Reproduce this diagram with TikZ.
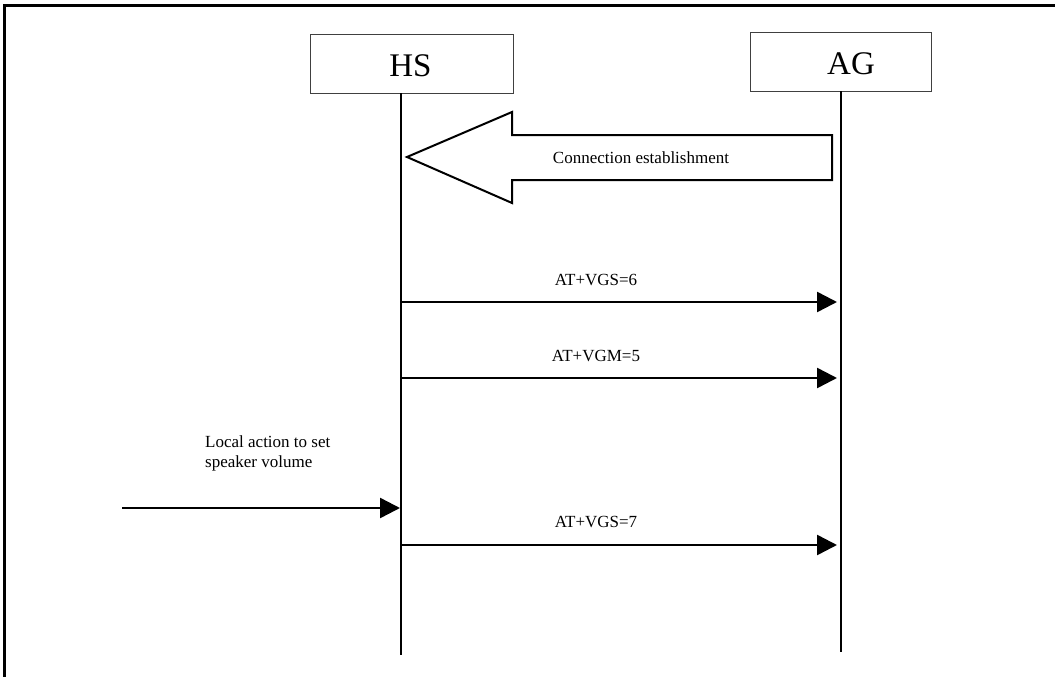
\documentclass[tikz,border=0pt]{standalone}
\usepackage{fontspec}
\setmainfont{Liberation Serif}
\usetikzlibrary{arrows.meta}
\begin{document}
\begin{tikzpicture}[x=1pt,y=-1pt,
  entity/.style={draw=black!75,line width=0.9pt,minimum height=59pt,inner sep=0pt,font=\fontsize{33}{36}\selectfont},
  lifeline/.style={line width=1.8pt},
  msg/.style={line width=2.5pt,-{Triangle[length=20pt,width=20pt]}},
  lbl/.style={inner sep=0pt,font=\fontsize{17}{20}\selectfont},
  frame/.style={line width=3pt}]
\useasboundingbox (0,0) rectangle (1055,677);
% frame
\coordinate (fTL) at (4,6);
\coordinate (fTR) at (1055,6);
\coordinate (fBL) at (4,677);
\draw[frame] (fTR) -- (fTL) -- (fBL);
% entities
\node[entity,minimum width=203pt] (HS) at (411.5,63.5) {};
\node at (410.5,66) {\fontsize{33}{36}\selectfont HS};
\node[entity,minimum width=181pt] (AG) at (840.5,61.5) {};
\node at (851,64) {\fontsize{33}{36}\selectfont AG};
% lifelines
\coordinate (hsTop) at (401,93);
\coordinate (hsBot) at (401,655);
\coordinate (agTop) at (841,91);
\coordinate (agBot) at (841,652);
\draw[lifeline] (hsTop) -- (hsBot);
\draw[lifeline] (agTop) -- (agBot);
% big arrow
\draw[line width=2pt,line join=miter] (407,157) -- (512,112) -- (512,135) -- (832,135) -- (832,180) -- (512,180) -- (512,203) -- cycle;
\node[lbl] (conn) at (641,158) {Connection establishment};
% messages
\coordinate (m1a) at (401,302); \coordinate (m1b) at (837,302);
\draw[msg] (m1a) -- (m1b);
\node[lbl,anchor=base] (l1) at (596,285) {AT+VGS=6};
\coordinate (m2a) at (401,378); \coordinate (m2b) at (837,378);
\draw[msg] (m2a) -- (m2b);
\node[lbl,anchor=base] (l2) at (596,361) {AT+VGM=5};
\coordinate (m3a) at (122,508); \coordinate (m3b) at (400,508);
\draw[msg] (m3a) -- (m3b);
\node[lbl,anchor=base west,align=left] (l3) at (205,467) {Local action to set\\speaker volume};
\coordinate (m4a) at (401,545); \coordinate (m4b) at (837,545);
\draw[msg] (m4a) -- (m4b);
\node[lbl,anchor=base] (l4) at (596,527) {AT+VGS=7};
\end{tikzpicture}
\end{document}
